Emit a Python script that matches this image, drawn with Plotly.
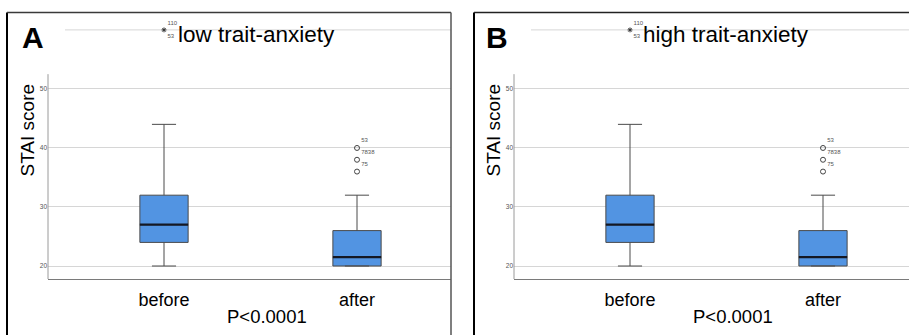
import plotly.graph_objects as go

# Box-plot summary per time point (STAI score)
GROUPS = ["before", "after"]
Q1 = [24, 20]
MEDIAN = [27, 21.5]
Q3 = [32, 26]
LOWER_WHISKER = [20, 20]
UPPER_WHISKER = [44, 32]

# Mild outliers (circles) in the "after" group, with case labels
OUTLIER_VALUES = [40, 38, 36]
OUTLIER_LABELS = ["53", "7838", "75"]

# Extreme values (stars) in the "before" group, with case labels
EXTREME_VALUES = [60, 60]
EXTREME_LABELS = ["110", "53"]

Y_TICKS = [20, 30, 40, 50]
PANEL_TITLES = ["low trait-anxiety", "high trait-anxiety"]
PANEL_LETTERS = ["A", "B"]
P_TEXT = "P<0.0001"
Y_TITLE = "STAI score"

W, H = 909, 335
FONT = "Liberation Sans, Arial, sans-serif"
BOX_FILL = "#5294E2"
BOX_LINE = "#4a4a4a"
GRID = "#d6d6d6"
SMALL_TEXT = "#555555"
BOX_WIDTH = 0.25
POS = list(range(len(GROUPS)))


def px(x):
    return x / W


def py(y):
    return 1 - y / H


Y_RANGE = [17.8, 61]
Y_DOMAIN = [py(279), py(24)]
UNIT = 193.0  # pixels between category centres
R0 = -(164 - 48) / UNIT

panels = [
    dict(x0=48, x1=451, border_l=7, border_r=451, title_x=256, letter_x=33,
         ytitle_x=27, p_x=266.5),
    dict(x0=514, x1=909, border_l=474, border_r=None, title_x=725.5, letter_x=497,
         ytitle_x=493, p_x=732.5),
]

fig = go.Figure()
layout = dict(
    width=W, height=H, margin=dict(l=0, r=0, t=0, b=0),
    paper_bgcolor="white", plot_bgcolor="white", showlegend=False,
    font=dict(family=FONT, color="black"),
)
shapes = []
annotations = []

for i, p in enumerate(panels):
    sfx = "" if i == 0 else str(i + 1)
    xa, ya = "x" + sfx, "y" + sfx
    width_px = p["x1"] - p["x0"]
    layout["xaxis" + sfx] = dict(
        domain=[px(p["x0"]), px(p["x1"])], anchor=ya,
        range=[R0, R0 + width_px / UNIT],
        tickmode="array", tickvals=POS, ticktext=GROUPS,
        tickfont=dict(size=18, family=FONT, color="black"),
        ticks="", showgrid=False, zeroline=False,
        showline=True, linecolor="#7a7a7a", linewidth=1.2,
        ticklabelstandoff=4, fixedrange=True,
    )
    layout["yaxis" + sfx] = dict(
        domain=Y_DOMAIN, anchor=xa, range=Y_RANGE,
        tickmode="array", tickvals=Y_TICKS,
        tickfont=dict(size=6.5, family=FONT, color=SMALL_TEXT),
        ticks="", showgrid=True, gridcolor=GRID, gridwidth=1,
        zeroline=False, showline=False, fixedrange=True,
    )

    # boxes
    for j, g in enumerate(GROUPS):
        fig.add_trace(go.Box(
            x=[POS[j]], q1=[Q1[j]], median=[MEDIAN[j]], q3=[Q3[j]],
            lowerfence=[LOWER_WHISKER[j]], upperfence=[UPPER_WHISKER[j]],
            width=BOX_WIDTH, whiskerwidth=0.5, boxpoints=False,
            fillcolor=BOX_FILL, line=dict(color=BOX_LINE, width=1),
            xaxis=xa, yaxis=ya, name=g, hoverinfo="skip",
        ))
        fig.add_trace(go.Scatter(
            x=[POS[j] - BOX_WIDTH / 2, POS[j] + BOX_WIDTH / 2],
            y=[MEDIAN[j], MEDIAN[j]], mode="lines",
            line=dict(color="#141824", width=2.2),
            xaxis=xa, yaxis=ya, hoverinfo="skip",
        ))

    # circles for outliers in "after"
    fig.add_trace(go.Scatter(
        x=[POS[1]] * len(OUTLIER_VALUES), y=OUTLIER_VALUES,
        mode="markers+text", text=OUTLIER_LABELS, textposition="top right",
        textfont=dict(size=6, family=FONT, color=SMALL_TEXT),
        marker=dict(symbol="circle-open", size=5, color="#444",
                    line=dict(width=1, color="#444")),
        xaxis=xa, yaxis=ya, hoverinfo="skip", cliponaxis=False,
    ))
    # star for extremes in "before"
    fig.add_trace(go.Scatter(
        x=[POS[0]] * len(EXTREME_VALUES), y=EXTREME_VALUES,
        mode="markers+text", text=EXTREME_LABELS,
        textposition=["top right", "bottom right"],
        textfont=dict(size=6, family=FONT, color=SMALL_TEXT),
        marker=dict(symbol="asterisk-open", size=4, color="#333",
                    line=dict(width=0.6, color="#333")),
        xaxis=xa, yaxis=ya, hoverinfo="skip", cliponaxis=False,
    ))

    # partial y axis line and the top grid line
    shapes.append(dict(type="line", xref=xa + " domain", yref=ya,
                       x0=0, x1=0, y0=Y_RANGE[0], y1=52.5,
                       line=dict(color="#9a9a9a", width=1)))
    shapes.append(dict(type="line", xref=xa + " domain", yref=ya,
                       x0=17 / width_px, x1=1, y0=60, y1=60, layer="below",
                       line=dict(color=GRID, width=1)))

    # panel frame
    shapes.append(dict(type="line", xref="paper", yref="paper",
                       x0=px(p["border_l"]), x1=px(p["border_l"]),
                       y0=py(12.5), y1=py(H + 5),
                       line=dict(color="black", width=2)))
    right = p["border_r"] if p["border_r"] is not None else W + 5
    shapes.append(dict(type="line", xref="paper", yref="paper",
                       x0=px(p["border_l"]), x1=px(right),
                       y0=py(12.5), y1=py(12.5),
                       line=dict(color="#222" if i else "#3a3a3a", width=1.5)))
    if p["border_r"] is not None:
        shapes.append(dict(type="line", xref="paper", yref="paper",
                           x0=px(p["border_r"]), x1=px(p["border_r"]),
                           y0=py(12.5), y1=py(H + 5),
                           line=dict(color="#555", width=1.5)))

    annotations += [
        dict(text=PANEL_LETTERS[i], x=px(p["letter_x"]), y=py(37),
             xref="paper", yref="paper", showarrow=False,
             xanchor="center", yanchor="middle",
             font=dict(size=30, family=FONT, color="black", weight="bold")),
        dict(text=PANEL_TITLES[i], x=px(p["title_x"]), y=py(35),
             xref="paper", yref="paper", showarrow=False,
             xanchor="center", yanchor="middle",
             font=dict(size=22.5, family=FONT, color="black")),
        dict(text=Y_TITLE, x=px(p["ytitle_x"]), y=py(130.5), textangle=-90,
             xref="paper", yref="paper", showarrow=False,
             xanchor="center", yanchor="middle",
             font=dict(size=19, family=FONT, color="black")),
        dict(text=P_TEXT, x=px(p["p_x"]), y=py(316.3),
             xref="paper", yref="paper", showarrow=False,
             xanchor="center", yanchor="middle",
             font=dict(size=18.5, family=FONT, color="black")),
    ]

layout["shapes"] = shapes
layout["annotations"] = annotations
fig.update_layout(**layout)
fig.write_html("out.html")
